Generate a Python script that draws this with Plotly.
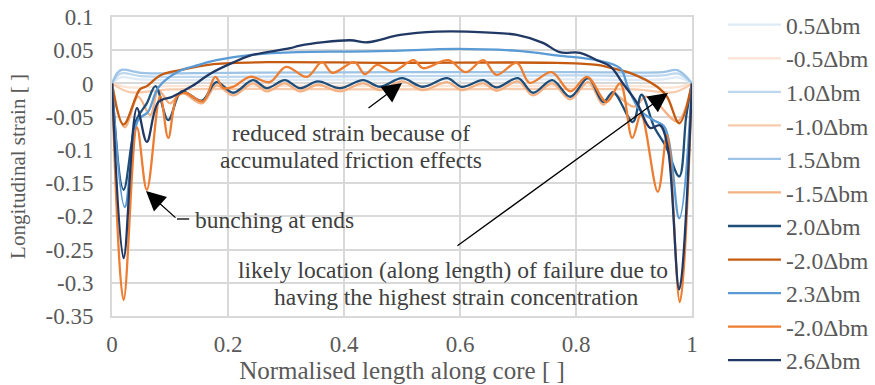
import plotly.graph_objects as go

# Strain profiles along the core for each end-displacement step
x_p05 = [0, 0.015, 0.05, 0.2, 0.5, 0.8, 0.95, 0.975, 1]
y_p05 = [0, 0.009, 0.006, 0.005, 0.006, 0.006, 0.006, 0.009, 0]

x_m05 = [0, 0.03, 0.1, 0.5, 0.9, 0.97, 1]
y_m05 = [0, -0.006, -0.004, -0.004, -0.004, -0.006, 0]

x_p10 = [0, 0.015, 0.05, 0.2, 0.5, 0.8, 0.95, 0.975, 1]
y_p10 = [0, 0.015, 0.011, 0.01, 0.011, 0.012, 0.012, 0.015, 0]

x_m10 = [0, 0.03, 0.1, 0.5, 0.9, 0.97, 1]
y_m10 = [0, -0.013, -0.009, -0.009, -0.009, -0.013, 0]

x_p15 = [0, 0.015, 0.05, 0.2, 0.5, 0.8, 0.95, 0.975, 1]
y_p15 = [0, 0.02, 0.016, 0.016, 0.017, 0.017, 0.017, 0.02, 0]

x_m15 = [0, 0.022, 0.045, 0.066, 0.08, 0.1, 0.12, 0.155, 0.18, 0.209, 0.243, 0.267,
         0.298, 0.324, 0.355, 0.393, 0.433, 0.462, 0.5, 0.536, 0.578, 0.603, 0.64,
         0.663, 0.7, 0.726, 0.759, 0.79, 0.821, 0.847, 0.864, 0.9, 0.92, 0.94, 0.975, 1]
y_m15 = [0, -0.066, -0.02, -0.048, -0.01, -0.03, -0.014, -0.03, -0.003, -0.018, 0.0, -0.012,
         0.0, -0.012, -0.002, -0.012, 0.0, -0.01, 0.003, -0.01, 0.002, -0.01, 0.0,
         -0.011, 0.003, -0.018, 0.0, -0.024, 0.002, -0.032, -0.016, -0.035, -0.02, -0.03, -0.057, 0]

x_p20 = [0, 0.02, 0.042, 0.06, 0.075, 0.097, 0.12, 0.155, 0.18, 0.209, 0.243, 0.267,
         0.298, 0.324, 0.355, 0.393, 0.433, 0.462, 0.5, 0.536, 0.578, 0.603, 0.64,
         0.663, 0.7, 0.726, 0.759, 0.79, 0.821, 0.847, 0.864, 0.898, 0.913, 0.935,
         0.955, 0.978, 0.99, 1]
y_p20 = [0, -0.16, -0.055, -0.03, -0.004, -0.055, -0.012, -0.026, 0.002, -0.014, 0.005, -0.007,
         0.005, -0.007, 0.003, -0.007, 0.005, -0.005, 0.008, -0.005, 0.008, -0.005, 0.005,
         -0.006, 0.008, -0.014, 0.005, -0.02, 0.008, -0.028, -0.013, -0.058, -0.017, -0.066,
         -0.095, -0.14, -0.05, 0]

x_m20a = [0, 0.02, 0.048, 0.06, 0.083, 0.117, 0.175, 0.267, 0.48, 0.767, 0.836, 0.876,
          0.893, 0.94, 0.957, 0.978, 1]
y_m20a = [0, -0.062, -0.009, -0.004, 0.012, 0.02, 0.029, 0.032, 0.031, 0.031, 0.028, 0.02,
          0.016, -0.005, -0.02, -0.06, 0]

x_p23 = [0, 0.022, 0.045, 0.062, 0.08, 0.117, 0.15, 0.18, 0.24, 0.32, 0.41, 0.48, 0.595,
         0.7, 0.77, 0.836, 0.876, 0.89, 0.91, 0.933, 0.953, 0.978, 1]
y_p23 = [0, -0.186, -0.055, -0.043, -0.006, 0.019, 0.028, 0.035, 0.043, 0.047, 0.048, 0.049, 0.052,
         0.049, 0.042, 0.035, 0.023, -0.007, -0.04, -0.055, -0.066, -0.203, 0]

x_m20b = [0, 0.02, 0.043, 0.06, 0.083, 0.097, 0.112, 0.126, 0.157, 0.178, 0.192, 0.209,
          0.238, 0.272, 0.3, 0.336, 0.362, 0.38, 0.418, 0.436, 0.457, 0.484, 0.52, 0.536,
          0.58, 0.61, 0.64, 0.663, 0.698, 0.72, 0.758, 0.79, 0.819, 0.853, 0.876, 0.897,
          0.912, 0.941, 0.957, 0.979, 1]
y_m20b = [0, -0.326, -0.066, -0.16, -0.019, -0.082, -0.02, -0.014, -0.027, 0.01, -0.007, -0.005,
          0.01, 0.002, 0.025, 0.01, 0.032, 0.016, 0.032, 0.014, 0.028, 0.018, 0.035, 0.023,
          0.035, 0.017, 0.035, 0.013, 0.031, 0.001, 0.017, -0.012, 0.01, -0.028, 0.0, -0.082,
          -0.047, -0.163, -0.078, -0.329, 0]

x_p26 = [0, 0.02, 0.043, 0.06, 0.08, 0.104, 0.138, 0.17, 0.21, 0.238, 0.307, 0.324, 0.41,
         0.44, 0.497, 0.56, 0.612, 0.698, 0.743, 0.772, 0.807, 0.836, 0.86, 0.88, 0.905,
         0.928, 0.945, 0.958, 0.978, 1]
y_p26 = [0, -0.263, -0.037, -0.088, -0.028, -0.02, -0.004, 0.015, 0.032, 0.042, 0.053, 0.057, 0.065,
         0.062, 0.073, 0.078, 0.078, 0.073, 0.061, 0.047, 0.046, 0.035, 0.025, 0.001, -0.029,
         -0.067, -0.063, -0.095, -0.31, 0]

series_names = ["0.5Δbm", "-0.5Δbm", "1.0Δbm", "-1.0Δbm", "1.5Δbm", "-1.5Δbm",
                "2.0Δbm", "-2.0Δbm", "2.3Δbm", "-2.0Δbm", "2.6Δbm"]
series_x = [x_p05, x_m05, x_p10, x_m10, x_p15, x_m15, x_p20, x_m20a, x_p23, x_m20b, x_p26]
series_y = [y_p05, y_m05, y_p10, y_m10, y_p15, y_m15, y_p20, y_m20a, y_p23, y_m20b, y_p26]
series_colors = ["#DEEBF7", "#FBE5D6", "#BDD7EE", "#F8CBAD", "#9DC3E6", "#F4B183",
                 "#1F4E79", "#C55A11", "#5B9BD5", "#ED7D31", "#203864"]

x_ticks = [0, 0.2, 0.4, 0.6, 0.8, 1]
x_tick_labels = ["0", "0.2", "0.4", "0.6", "0.8", "1"]
y_ticks = [0.1, 0.05, 0, -0.05, -0.1, -0.15, -0.2, -0.25, -0.3, -0.35]
y_tick_labels = ["0.1", "0.05", "0", "-0.05", "-0.1", "-0.15", "-0.2", "-0.25", "-0.3", "-0.35"]

# Callout text lines (x, y, text, anchor)
note_lines = [
    (0.412, -0.0746, "reduced strain because of", "center"),
    (0.412, -0.1152, "accumulated friction effects", "center"),
    (0.1397, -0.2055, "bunching at ends", "left"),
    (0.588, -0.2808, "likely location (along length) of failure due to", "center"),
    (0.593, -0.3214, "having the highest strain concentration", "center"),
]
# Arrows: (tip), (tail)
arrows = [
    ((0.5, 0.0007), (0.4397, -0.0385)),
    ((0.0586, -0.162), (0.112, -0.204)),
    ((0.9586, -0.0144), (0.593, -0.246)),
]

FONT = "Liberation Serif"
GRID = "#D9D9D9"
TXT = "#595959"

fig = go.Figure()
for name, xs, ys, col in zip(series_names, series_x, series_y, series_colors):
    fig.add_trace(go.Scatter(
        x=xs, y=ys, name=name, mode="lines",
        line=dict(color=col, width=2.3, shape="spline", smoothing=1.0),
    ))

for nx, ny, txt, anc in note_lines:
    fig.add_annotation(x=nx, y=ny, text=txt, xanchor=anc, yanchor="middle",
                       showarrow=False, font=dict(family=FONT, size=23.5, color="#404040"))

for (tx, ty), (sx, sy) in arrows:
    fig.add_annotation(x=tx, y=ty, ax=sx, ay=sy, xref="x", yref="y", axref="x", ayref="y",
                       text="", showarrow=True, arrowhead=2, arrowsize=3,
                       arrowwidth=1.3, arrowcolor="black")
fig.add_shape(type="line", x0=0.112, y0=-0.204, x1=0.133, y1=-0.204,
              line=dict(color="black", width=1.3))

fig.update_layout(
    width=875, height=385,
    margin=dict(l=112, r=183, t=17, b=69, autoexpand=False),
    paper_bgcolor="white", plot_bgcolor="white",
    font=dict(family=FONT, color=TXT),
    legend=dict(x=1.0534, y=1.047, xanchor="left", yanchor="top",
                font=dict(family=FONT, size=23.5, color=TXT),
                itemwidth=53, bgcolor="rgba(0,0,0,0)", maxheight=385),
    showlegend=True,
)
fig.update_xaxes(range=[0, 1], tickvals=x_ticks, ticktext=x_tick_labels,
                 showgrid=True, gridcolor=GRID, gridwidth=1.8, zeroline=False,
                 showline=True, linecolor=GRID, linewidth=2, mirror=True,
                 ticks="", ticklabelstandoff=6,
                 tickfont=dict(family=FONT, size=23, color=TXT),
                 title=dict(text="Normalised length along core [ ]", standoff=4,
                            font=dict(family=FONT, size=25, color=TXT)))
fig.update_yaxes(range=[-0.35, 0.1], tickvals=y_ticks, ticktext=y_tick_labels,
                 showgrid=True, gridcolor=GRID, gridwidth=1.8, zeroline=False,
                 showline=True, linecolor=GRID, linewidth=2, mirror=True,
                 ticks="", ticklabelstandoff=12,
                 tickfont=dict(family=FONT, size=23, color=TXT),
                 title=dict(text="Longitudinal strain [ ]", standoff=14,
                            font=dict(family=FONT, size=21, color=TXT)))

fig.write_html("out.html")
